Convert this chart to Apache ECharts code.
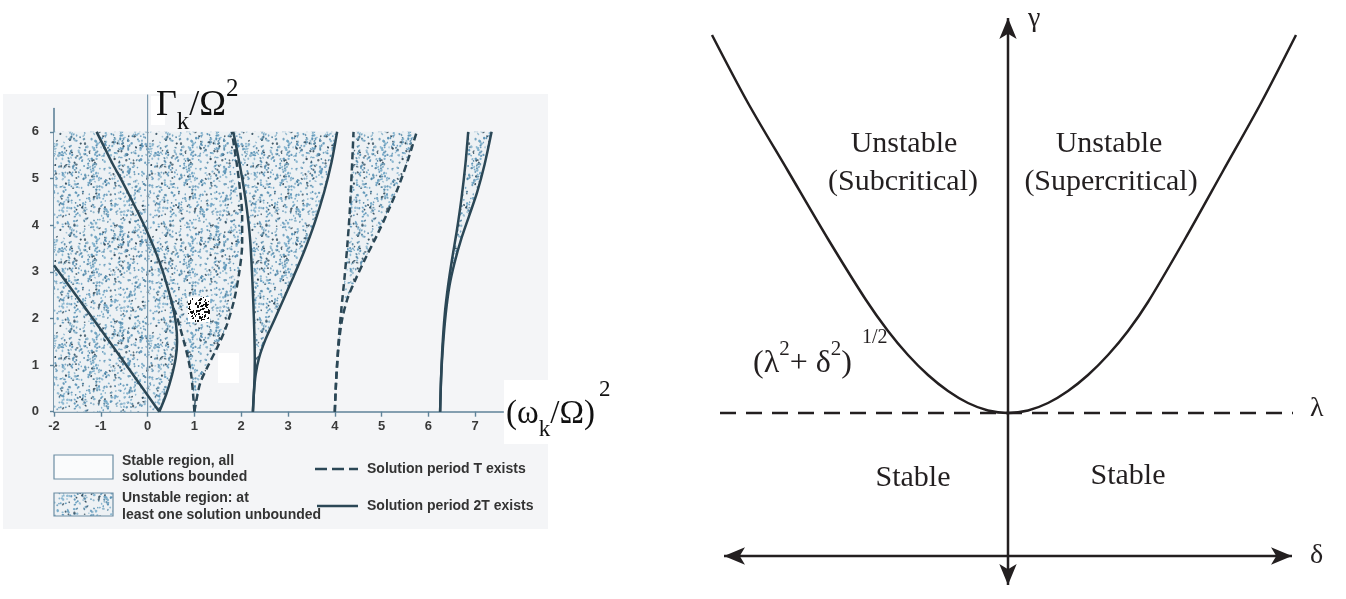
<!DOCTYPE html>
<html><head><meta charset="utf-8">
<script src="https://cdn.jsdelivr.net/npm/echarts@6/dist/echarts.min.js"></script>
<style>html,body{margin:0;padding:0;background:#fff}#c{width:1346px;height:599px}</style>
</head><body><div id="c"></div>
<script>
// ===== Left panel: stability chart, x = (ω_k/Ω)^2, y = Γ_k/Ω^2 =====
const xTickValues = [-2, -1, 0, 1, 2, 3, 4, 5, 6, 7];
const yTickValues = [0, 1, 2, 3, 4, 5, 6];
// solid (period 2T) and dashed (period T) transition curves
const b1 = [[-2, 3.14], [-0.92, 1.65], [0.25, 0]];
const a1 = [[0.25, 0], [0.4, 0.38], [0.52, 0.78], [0.6, 1.15], [0.63, 1.5], [0.61, 1.85], [0.54, 2.25], [0.44, 2.62], [0.31, 3.05], [0.15, 3.48], [-0.02, 3.88], [-0.2, 4.26], [-0.38, 4.62], [-0.56, 4.97], [-0.74, 5.3], [-0.92, 5.66], [-1.09, 6]];
const b2 = [[1, 0], [0.97, 0.4], [0.93, 0.8], [0.87, 1.12], [0.79, 1.45], [0.7, 1.78], [0.61, 2.08], [0.54, 2.25], [0.47, 2.52]];
const a2 = [[1, 0], [1.12, 0.6], [1.3, 1.0], [1.5, 1.4], [1.69, 1.85], [1.85, 2.4], [1.96, 3.0], [2.02, 3.6], [2.02, 4.2], [1.97, 4.8], [1.9, 5.35], [1.8, 6]];
const b3 = [[2.25, 0], [2.28, 0.6], [2.29, 1.1], [2.28, 1.7], [2.26, 2.3], [2.23, 3.0], [2.19, 3.7], [2.12, 4.35], [2.03, 4.95], [1.93, 5.5], [1.83, 6]];
const a3 = [[2.25, 0], [2.27, 0.4], [2.31, 0.8], [2.38, 1.15], [2.52, 1.55], [2.7, 1.95], [2.9, 2.4], [3.12, 2.9], [3.35, 3.45], [3.57, 4.05], [3.77, 4.7], [3.93, 5.35], [4.05, 6]];
const b4 = [[4, 0], [4.03, 0.7], [4.08, 1.5], [4.14, 2.2], [4.21, 2.9], [4.27, 3.6], [4.32, 4.3], [4.36, 5.1], [4.4, 6]];
const a4 = [[4, 0], [4.02, 0.5], [4.05, 1.0], [4.09, 1.5], [4.16, 2.0], [4.28, 2.45], [4.45, 2.85], [4.66, 3.3], [4.9, 3.78], [5.14, 4.3], [5.37, 4.85], [5.57, 5.42], [5.75, 6]];
const b5 = [[6.25, 0], [6.27, 0.7], [6.3, 1.4], [6.35, 2.1], [6.42, 2.7], [6.51, 3.3], [6.61, 3.9], [6.71, 4.6], [6.79, 5.3], [6.85, 6]];
const a5 = [[6.25, 0], [6.27, 0.7], [6.31, 1.4], [6.37, 2.1], [6.45, 2.7], [6.56, 3.2], [6.7, 3.7], [6.87, 4.2], [7.04, 4.7], [7.2, 5.3], [7.35, 6]];
const crossA1B2 = [0.54, 2.25];
const gammaAxisLine = [[0, 0], [0, 6.8]];
const fillTop = 6;
const xLeft = -2;

// ===== Right panel: γ vs δ =====
const boundary = [[-2.96, 5.21], [-2.6, 4.53], [-2.2, 3.85], [-1.8, 3.17], [-1.42, 2.56], [-1.2, 2.25], [-1.0, 2.01], [-0.8, 1.81], [-0.6, 1.65], [-0.4, 1.53], [-0.2, 1.455], [0, 1.43],
                  [0.2, 1.455], [0.4, 1.53], [0.6, 1.65], [0.8, 1.81], [1.0, 2.01], [1.2, 2.25], [1.4, 2.54], [1.77, 3.17], [2.15, 3.85], [2.53, 4.53], [2.88, 5.21]];
const lambdaLine = [[-2.88, 1.43], [2.85, 1.43]];
const deltaAxisEnds = [[-2.84, 0], [2.84, 0]];
const gammaAxisEnds = [[0, 5.38], [0, -0.29]];

// ----- textures -----
function rng(seed) { return function () { seed |= 0; seed = seed + 0x6D2B79F5 | 0; let t = Math.imul(seed ^ seed >>> 15, 1 | seed); t = t + Math.imul(t ^ t >>> 7, 61 | t) ^ t; return ((t ^ t >>> 14) >>> 0) / 4294967296; }; }
function makeStipple() {
  const S = 96, c = document.createElement('canvas'); c.width = S; c.height = S;
  const g = c.getContext('2d'); g.fillStyle = '#edf1f4'; g.fillRect(0, 0, S, S);
  const r = rng(7); const cols = ['#5b93b6', '#6fa6c6', '#4a7f9f', '#2f4a5b', '#84b3cd', '#5b93b6', '#8fb6cc'];
  for (let i = 0; i < 720; i++) {
    const x = r() * S, y = r() * S, rx = 0.8 + r() * 0.7, ry = 0.7 + r() * 0.5, rot = r() * 3.1;
    g.fillStyle = cols[Math.floor(r() * cols.length)];
    g.globalAlpha = 0.75 + r() * 0.25;
    for (const dx of [-S, 0, S]) for (const dy of [-S, 0, S]) { g.beginPath(); g.ellipse(x + dx, y + dy, rx, ry, rot, 0, Math.PI * 2); g.fill(); }
  }
  return c;
}
function makeSpeckle() {
  const c = document.createElement('canvas'); c.width = 22; c.height = 25;
  const g = c.getContext('2d'); g.fillStyle = '#ffffff'; g.fillRect(0, 0, 22, 25);
  const r = rng(3); g.fillStyle = '#111';
  for (let i = 0; i < 90; i++) g.fillRect(Math.floor(r() * 21), Math.floor(r() * 24), 1 + Math.floor(r() * 2), 1 + Math.floor(r() * 2));
  return c;
}
const stipple = { image: makeStipple(), repeat: 'repeat' };

const AX = '#5f8399', CURVE = '#2b4756', INK = '#231f20';

const polyA = [[xLeft, 0]].concat(a1.filter(p => p[1] < crossA1B2[1]), [crossA1B2],
  b2.filter(p => p[1] < crossA1B2[1]).reverse(), a2, [[xLeft, fillTop]]);
const polyB = b3.concat(a3.slice().reverse());
const polyC = b4.concat(a4.slice().reverse());
const polyD = b5.concat(a5.slice().reverse());
const polys = [polyA, polyB, polyC, polyD];

function curve(data, dashed) {
  return { type: 'line', xAxisIndex: 0, yAxisIndex: 0, data: data, symbol: 'none', showSymbol: false, smooth: 0.3, silent: true, z: 5,
    lineStyle: { color: CURVE, width: 2.5, type: dashed ? [7, 4] : 'solid' } };
}

const serif = 'Liberation Serif, Times New Roman, serif';
const sans = 'Liberation Sans, Arial, sans-serif';

const chart = echarts.init(document.getElementById('c'), null, { renderer: 'canvas', width: 1346, height: 599 });
const option = {
  animation: false,
  backgroundColor: '#ffffff',
  grid: [
    { left: 54, top: 108.5, width: 449.3, height: 303.2 },
    { left: 708, top: 8, width: 600, height: 587 }
  ],
  xAxis: [
    { gridIndex: 0, type: 'value', min: -2, max: 7.6,
      axisLine: { show: true, onZero: false, lineStyle: { color: AX, width: 1.6 } },
      axisTick: { show: true, customValues: xTickValues, length: 5, lineStyle: { color: AX, width: 1.4 } },
      axisLabel: { customValues: xTickValues, margin: 8, color: '#3a3a3a', fontSize: 13, fontWeight: 'bold', fontFamily: sans },
      splitLine: { show: false } },
    { gridIndex: 1, type: 'value', min: -3, max: 3, show: false }
  ],
  yAxis: [
    { gridIndex: 0, type: 'value', min: 0, max: 6.5,
      axisLine: { show: true, onZero: false, lineStyle: { color: AX, width: 1.6 } },
      axisTick: { show: true, customValues: yTickValues, length: 4, lineStyle: { color: AX, width: 1.4 } },
      axisLabel: { customValues: yTickValues, margin: 15, color: '#3a3a3a', fontSize: 13, fontWeight: 'bold', fontFamily: sans },
      splitLine: { show: false } },
    { gridIndex: 1, type: 'value', min: -0.39, max: 5.48, show: false }
  ],
  series: [
    { type: 'custom', xAxisIndex: 0, yAxisIndex: 0, data: [[0, 0]], silent: true, z: 2,
      renderItem: function (params, api) {
        return { type: 'group', children: polys.map(pl => ({ type: 'polygon', shape: { points: pl.map(p => api.coord(p)) }, style: { fill: stipple } })) };
      } },
    { type: 'line', xAxisIndex: 0, yAxisIndex: 0, data: gammaAxisLine, symbol: 'none', clip: false, silent: true, z: 4,
      lineStyle: { color: '#7d9bb0', width: 1.2 } },
    curve(b1, false), curve(a1, false), curve(b2, true), curve(a2, true), curve(b3, false), curve(a3, false),
    curve(b4, true), curve(a4, true), curve(b5, false), curve(a5, false),
    // right panel
    { type: 'line', xAxisIndex: 1, yAxisIndex: 1, data: lambdaLine, symbol: 'none', silent: true, clip: false, z: 5,
      lineStyle: { color: INK, width: 2.5, type: [16, 10] } },
    { type: 'line', xAxisIndex: 1, yAxisIndex: 1, data: boundary, symbol: 'none', smooth: 0.3, silent: true, clip: false, z: 6,
      lineStyle: { color: INK, width: 2.5 } },
    { type: 'line', xAxisIndex: 1, yAxisIndex: 1, silent: true, clip: false, z: 6, symbol: 'arrow', symbolSize: [13, 21], showSymbol: true,
      data: [{ value: deltaAxisEnds[0], symbolRotate: 90 }, { value: deltaAxisEnds[1], symbolRotate: -90 }],
      itemStyle: { color: INK }, lineStyle: { color: INK, width: 2.5 } },
    { type: 'line', xAxisIndex: 1, yAxisIndex: 1, silent: true, clip: false, z: 6, symbol: 'arrow', symbolSize: [13, 21], showSymbol: true,
      data: [{ value: gammaAxisEnds[0], symbolRotate: 0 }, { value: gammaAxisEnds[1], symbolRotate: 180 }],
      itemStyle: { color: INK }, lineStyle: { color: INK, width: 2.5 } }
  ],
  graphic: [
    { type: 'rect', z: -10, shape: { x: 3, y: 94, width: 545, height: 435 }, style: { fill: '#f4f5f7' } },
    { type: 'rect', z: -5, shape: { x: 504, y: 380, width: 112, height: 64 }, style: { fill: '#ffffff' } },
    { type: 'rect', z: -5, shape: { x: 151, y: 96, width: 14, height: 29 }, style: { fill: '#ffffff' } },
    { type: 'rect', z: 50, shape: { x: 218, y: 353, width: 21, height: 30 }, style: { fill: '#ffffff' } },
    { type: 'image', z: 50, style: { image: makeSpeckle(), x: 188, y: 297, width: 22, height: 25 } },
    { type: 'text', z: 60, x: 156, y: 106, style: { text: '{m|Γ}{sb|k}{m|/Ω}{sp|2}', verticalAlign: 'middle', align: 'left', fill: '#111',
        rich: { m: { fontSize: 36, fontFamily: serif, lineHeight: 58, verticalAlign: 'middle', fill: '#111' },
                sb: { fontSize: 25, fontFamily: serif, lineHeight: 24, verticalAlign: 'bottom', fill: '#111' },
                sp: { fontSize: 25, fontFamily: serif, lineHeight: 24, verticalAlign: 'top', fill: '#111' } } } },
    { type: 'text', z: 60, x: 506, y: 414, style: { text: '{m|(ω}{sb|k}{m|/Ω)}', verticalAlign: 'middle', align: 'left', fill: '#111',
        rich: { m: { fontSize: 33, fontFamily: serif, lineHeight: 54, verticalAlign: 'middle', fill: '#111' },
                sb: { fontSize: 23, fontFamily: serif, lineHeight: 22, verticalAlign: 'bottom', fill: '#111' } } } },
    { type: 'text', z: 60, x: 599, y: 390, style: { text: '2', font: '23px ' + serif, fill: '#111', verticalAlign: 'middle' } },
    // legend
    { type: 'rect', z: 10, shape: { x: 54, y: 455, width: 59, height: 24 }, style: { fill: '#fafbfc', stroke: '#6c8ea3', lineWidth: 1.2 } },
    { type: 'rect', z: 10, shape: { x: 54, y: 493, width: 59, height: 23 }, style: { fill: stipple, stroke: '#6c8ea3', lineWidth: 1.2 } },
    { type: 'text', z: 10, x: 122, y: 461, style: { text: 'Stable region, all', font: 'bold 14px ' + sans, fill: '#333', verticalAlign: 'middle' } },
    { type: 'text', z: 10, x: 122, y: 477, style: { text: 'solutions bounded', font: 'bold 14px ' + sans, fill: '#333', verticalAlign: 'middle' } },
    { type: 'text', z: 10, x: 122, y: 498, style: { text: 'Unstable region: at', font: 'bold 14px ' + sans, fill: '#333', verticalAlign: 'middle' } },
    { type: 'text', z: 10, x: 122, y: 515, style: { text: 'least one solution unbounded', font: 'bold 14px ' + sans, fill: '#333', verticalAlign: 'middle' } },
    { type: 'line', z: 10, shape: { x1: 315, y1: 469, x2: 358, y2: 469 }, style: { stroke: CURVE, lineWidth: 2.6, lineDash: [12, 5] } },
    { type: 'line', z: 10, shape: { x1: 317, y1: 506, x2: 358, y2: 506 }, style: { stroke: CURVE, lineWidth: 2.6 } },
    { type: 'text', z: 10, x: 367, y: 469, style: { text: 'Solution period T exists', font: 'bold 14px ' + sans, fill: '#333', verticalAlign: 'middle' } },
    { type: 'text', z: 10, x: 367, y: 506, style: { text: 'Solution period 2T exists', font: 'bold 14px ' + sans, fill: '#333', verticalAlign: 'middle' } },
    // right panel text
    { type: 'text', z: 60, x: 1028, y: 19, style: { text: 'γ', font: '28px ' + serif, fill: INK, verticalAlign: 'middle' } },
    { type: 'text', z: 60, x: 1310, y: 556, style: { text: 'δ', font: '28px ' + serif, fill: INK, verticalAlign: 'middle' } },
    { type: 'text', z: 60, x: 1310, y: 409, style: { text: 'λ', font: '28px ' + serif, fill: INK, verticalAlign: 'middle' } },
    { type: 'text', z: 60, x: 904, y: 144, style: { text: 'Unstable', font: '30px ' + serif, fill: INK, align: 'center', verticalAlign: 'middle' } },
    { type: 'text', z: 60, x: 903, y: 182, style: { text: '(Subcritical)', font: '30px ' + serif, fill: INK, align: 'center', verticalAlign: 'middle' } },
    { type: 'text', z: 60, x: 1109, y: 144, style: { text: 'Unstable', font: '30px ' + serif, fill: INK, align: 'center', verticalAlign: 'middle' } },
    { type: 'text', z: 60, x: 1111, y: 182, style: { text: '(Supercritical)', font: '30px ' + serif, fill: INK, align: 'center', verticalAlign: 'middle' } },
    { type: 'text', z: 60, x: 913, y: 478, style: { text: 'Stable', font: '30px ' + serif, fill: INK, align: 'center', verticalAlign: 'middle' } },
    { type: 'text', z: 60, x: 1128, y: 476, style: { text: 'Stable', font: '30px ' + serif, fill: INK, align: 'center', verticalAlign: 'middle' } },
    { type: 'text', z: 60, x: 753, y: 364, style: { text: '{m|(λ}{sp|2}{m|+ δ}{sp|2}{m|)}', verticalAlign: 'middle', align: 'left', fill: INK,
        rich: { m: { fontSize: 32, fontFamily: serif, lineHeight: 50, verticalAlign: 'middle', fill: INK },
                sp: { fontSize: 21, fontFamily: serif, lineHeight: 20, verticalAlign: 'top', fill: INK } } } },
    { type: 'text', z: 60, x: 862, y: 338, style: { text: '1/2', font: '20px ' + serif, fill: INK, verticalAlign: 'middle' } }
  ]
};
chart.setOption(option);
</script></body></html>
